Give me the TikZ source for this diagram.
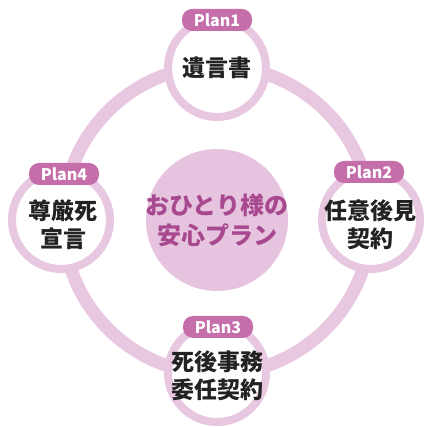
\documentclass[tikz,border=0pt]{standalone}
\usepackage{fontspec}
\newfontfamily\jpfont{Noto Sans CJK JP}
\usetikzlibrary{backgrounds}

\definecolor{ringpink}{HTML}{E8C8E0}
\definecolor{planpink}{HTML}{C56EAA}
\definecolor{centerpink}{HTML}{E6C3DE}
\definecolor{centertext}{HTML}{A8488F}
\definecolor{inkblack}{HTML}{222222}

\begin{document}
\begin{tikzpicture}[x=1pt, y=1pt,
    plan/.style={fill=planpink, rounded corners=10pt, minimum width=70pt,
      minimum height=22pt, inner sep=0pt, text=white,
      font=\jpfont\bfseries\fontsize{16}{16}\selectfont},
    item/.style={align=center, text=inkblack,
      font=\jpfont\bfseries\fontsize{23}{28}\selectfont}]

            \useasboundingbox (0,0) rectangle (425,427);

            \draw[ringpink, line width=13pt] (217,207) circle (154);
            \fill[centerpink] (217,207) circle (71);

            \filldraw[fill=white, draw=ringpink, line width=8pt] (217,359) circle (49);
            \filldraw[fill=white, draw=ringpink, line width=8pt] (371,207) circle (49);
            \filldraw[fill=white, draw=ringpink, line width=8pt] (217,54) circle (49);
            \filldraw[fill=white, draw=ringpink, line width=8pt] (61,207) circle (49);

            \node[align=center, text=centertext, font=\jpfont\bfseries\fontsize{24}{30}\selectfont] (core) at (217,207) {おひとり様の\\安心プラン};

            \node[item] (will) at (217,359) {遺言書};
            \node[item] (guard) at (370,202) {任意後見\\契約};
            \node[item] (after) at (217,51) {死後事務\\委任契約};
            \node[item] (dignity) at (63,202) {尊厳死\\宣言};

            \node[plan] (plan1) at (217,407) {Plan1};
            \node[plan] (plan2) at (369,255) {Plan2};
            \node[plan] (plan3) at (218,100) {Plan3};
            \node[plan] (plan4) at (64,253) {Plan4};
        \end{tikzpicture}
\end{document}
